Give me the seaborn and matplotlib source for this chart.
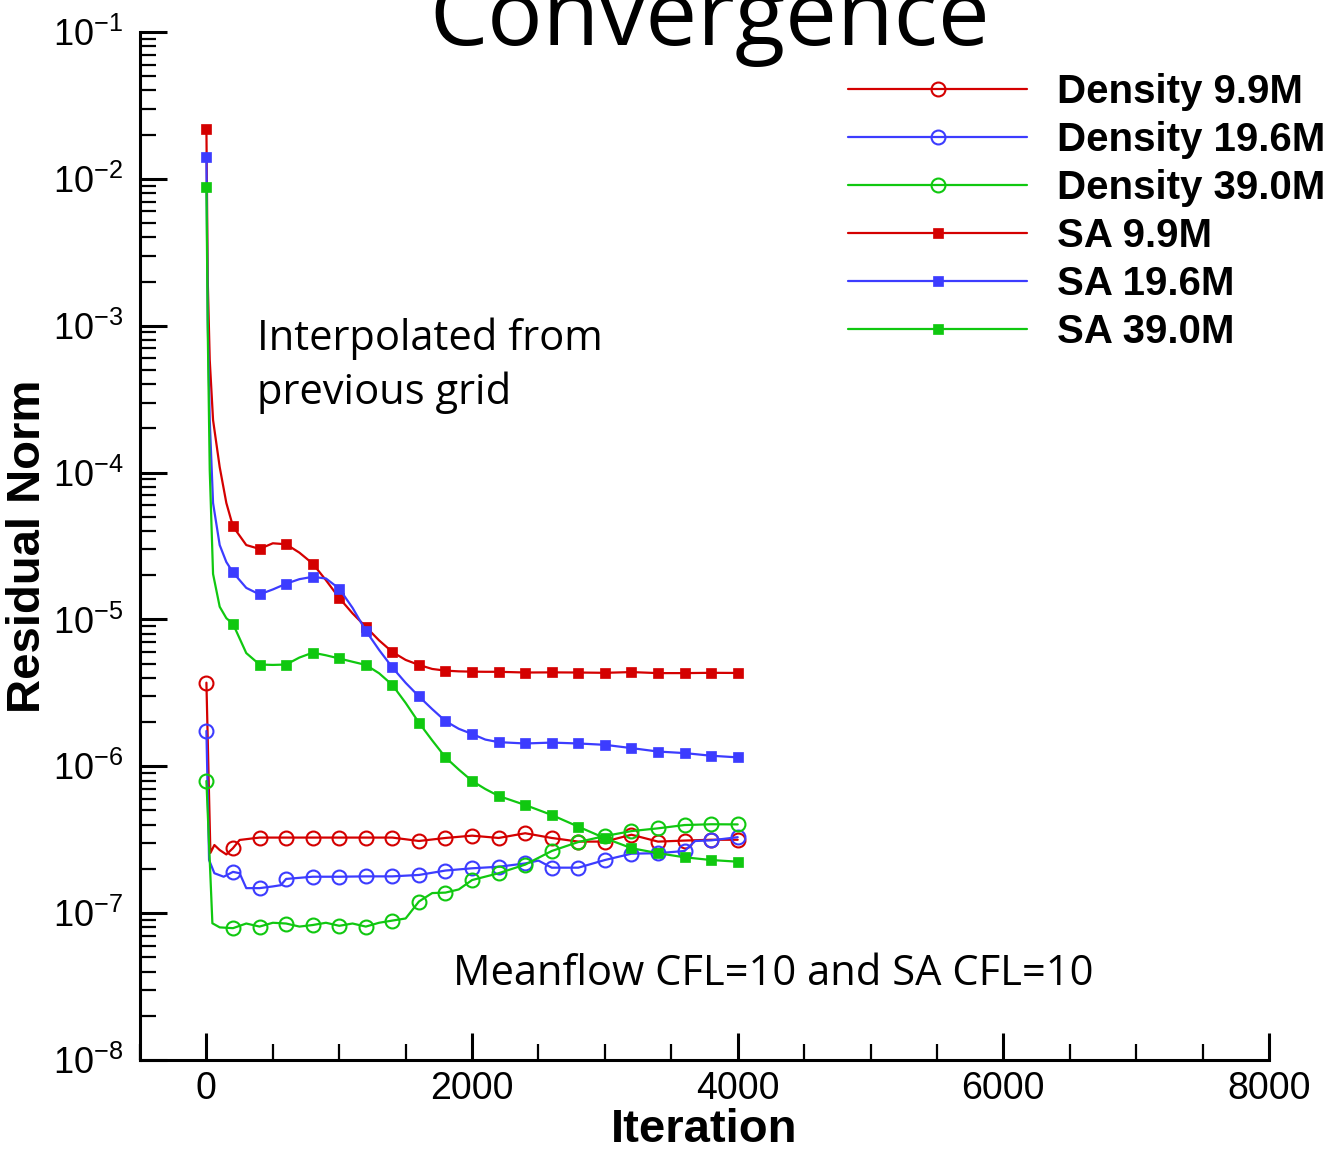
import numpy as np
import pandas as pd
import matplotlib
matplotlib.use("Agg")
import matplotlib.pyplot as plt
import matplotlib.ticker as mticker
from matplotlib.lines import Line2D
import seaborn as sns

# ---------------- data ----------------
labels = ["Density 9.9M", "Density 19.6M", "Density 39.0M", "SA 9.9M", "SA 19.6M", "SA 39.0M"]
colors = ["#d40000", "#3c3cff", "#10c810", "#d40000", "#3c3cff", "#10c810"]

# Density residuals
dens_red_x = [0, 30, 60, 100, 150, 200, 250, 400, 600, 800, 1000, 1200, 1400, 1600, 1800, 2000, 2200,
              2400, 2600, 2800, 3000, 3200, 3400, 3600, 3800, 4000]
dens_red_y = [3.71e-6, 2.57e-7, 2.91e-7, 2.69e-7, 2.51e-7, 2.77e-7, 3.15e-7, 3.27e-7, 3.27e-7, 3.27e-7,
              3.27e-7, 3.27e-7, 3.27e-7, 3.10e-7, 3.25e-7, 3.37e-7, 3.25e-7,
              3.50e-7, 3.25e-7, 3.07e-7, 3.07e-7, 3.42e-7, 3.07e-7, 3.12e-7, 3.16e-7, 3.16e-7]

dens_blue_x = [0, 20, 60, 130, 200, 250, 300, 400, 500, 560, 600, 800, 1000, 1200, 1400, 1600, 1800,
               2000, 2200, 2400, 2500, 2600, 2800, 3000, 3200, 3400, 3600, 3680, 3800, 4000]
dens_blue_y = [1.74e-6, 2.30e-7, 1.87e-7, 1.77e-7, 1.91e-7, 1.87e-7, 1.48e-7, 1.48e-7, 1.52e-7, 1.55e-7,
               1.71e-7, 1.77e-7, 1.77e-7, 1.78e-7, 1.78e-7, 1.82e-7, 1.95e-7,
               2.02e-7, 2.07e-7, 2.18e-7, 2.28e-7, 2.04e-7, 2.04e-7, 2.30e-7, 2.54e-7, 2.56e-7, 2.65e-7,
               3.10e-7, 3.13e-7, 3.29e-7]

dens_green_x = [0, 45, 100, 200, 300, 400, 500, 600, 700, 800, 900, 1000, 1100, 1200, 1300, 1400, 1500,
                1600, 1700, 1800, 1900, 2000, 2200, 2400, 2600, 2800, 3000, 3200, 3400, 3600, 3800, 4000]
dens_green_y = [7.94e-7, 8.53e-8, 8.0e-8, 7.9e-8, 8.5e-8, 8.1e-8, 8.6e-8, 8.5e-8, 8.1e-8, 8.3e-8, 8.6e-8,
                8.2e-8, 8.5e-8, 8.1e-8, 8.6e-8, 8.9e-8, 9.2e-8,
                1.20e-7, 1.37e-7, 1.38e-7, 1.45e-7, 1.68e-7, 1.87e-7, 2.14e-7, 2.65e-7, 3.05e-7, 3.35e-7,
                3.62e-7, 3.78e-7, 3.98e-7, 4.03e-7, 4.02e-7]

# SA residuals
sa_x = [0, 10, 25, 50, 100, 150, 200, 300, 400, 500, 600, 700, 800, 900, 1000, 1100, 1200, 1300, 1400,
        1500, 1600, 1700, 1800, 1900, 2000, 2100, 2200, 2400, 2600, 2800, 3000, 3200, 3400, 3600, 3800, 4000]
sa_red_y = [2.20e-2, 2.05e-3, 5.85e-4, 2.28e-4, 1.09e-4, 6.21e-5, 4.30e-5, 3.21e-5, 3.02e-5, 3.30e-5,
            3.25e-5, 2.85e-5, 2.40e-5, 1.85e-5, 1.40e-5, 1.10e-5, 8.91e-6, 7.20e-6, 6.00e-6,
            5.30e-6, 4.90e-6, 4.60e-6, 4.48e-6, 4.43e-6, 4.41e-6, 4.40e-6, 4.40e-6, 4.35e-6, 4.36e-6,
            4.35e-6, 4.33e-6, 4.38e-6, 4.31e-6, 4.31e-6, 4.33e-6, 4.32e-6]
sa_blue_y = [1.40e-2, 1.09e-3, 2.28e-4, 6.21e-5, 3.21e-5, 2.46e-5, 2.09e-5, 1.64e-5, 1.48e-5, 1.60e-5,
             1.75e-5, 1.88e-5, 1.95e-5, 1.90e-5, 1.62e-5, 1.20e-5, 8.38e-6, 6.20e-6, 4.71e-6,
             3.70e-6, 2.99e-6, 2.45e-6, 2.03e-6, 1.80e-6, 1.66e-6, 1.52e-6, 1.46e-6, 1.43e-6, 1.45e-6,
             1.43e-6, 1.40e-6, 1.33e-6, 1.26e-6, 1.23e-6, 1.18e-6, 1.15e-6]
sa_green_y = [8.80e-3, 9.35e-4, 1.04e-4, 2.04e-5, 1.22e-5, 1.02e-5, 9.33e-6, 5.90e-6, 4.93e-6, 4.90e-6,
              4.93e-6, 5.50e-6, 5.94e-6, 5.70e-6, 5.42e-6, 5.15e-6, 4.90e-6, 4.30e-6, 3.58e-6,
              2.70e-6, 1.98e-6, 1.50e-6, 1.15e-6, 9.50e-7, 7.95e-7, 7.00e-7, 6.28e-7, 5.45e-7, 4.66e-7,
              3.88e-7, 3.24e-7, 2.77e-7, 2.56e-7, 2.40e-7, 2.30e-7, 2.24e-7]

series_x = [dens_red_x, dens_blue_x, dens_green_x, sa_x, sa_x, sa_x]
series_y = [dens_red_y, dens_blue_y, dens_green_y, sa_red_y, sa_blue_y, sa_green_y]
series_marker = ["o", "o", "o", "s", "s", "s"]

x_ticks = [0, 2000, 4000, 6000, 8000]

# ---------------- figure ----------------
sns.set_style("ticks")
plt.rcParams["font.family"] = ["Liberation Sans", "DejaVu Sans"]
plt.rcParams["mathtext.default"] = "regular"
plt.rcParams["axes.unicode_minus"] = False
plt.rcParams["text.color"] = "black"
plt.rcParams["axes.labelcolor"] = "black"
plt.rcParams["xtick.color"] = "black"
plt.rcParams["ytick.color"] = "black"

W, H = 1332, 1150
fig = plt.figure(figsize=(W / 100, H / 100), dpi=100)
ax = fig.add_axes([140 / W, 1 - 1060 / H, (1269 - 140) / W, (1060 - 32) / H])
ax.set_yscale("log")

for lab, xs, ys, c, m in zip(labels, series_x, series_y, colors, series_marker):
    df = pd.DataFrame({"Iteration": xs, "Residual": ys})
    mask = [(int(v) % 200 == 0) for v in xs]
    if m == "o":
        sns.lineplot(data=df, x="Iteration", y="Residual", ax=ax, color=c, lw=1.6,
                     marker="o", markersize=10, mfc="none", mec=c, mew=1.5,
                     markevery=mask, estimator=None, sort=False)
    else:
        sns.lineplot(data=df, x="Iteration", y="Residual", ax=ax, color=c, lw=1.6,
                     marker="s", markersize=7.5, mfc=c, mec=c, mew=0.5,
                     markevery=mask, estimator=None, sort=False)

ax.set_xlim(-500, 8000)
ax.set_ylim(1e-8, 1e-1)

ax.xaxis.set_major_locator(mticker.FixedLocator(x_ticks))
ax.xaxis.set_minor_locator(mticker.MultipleLocator(500))
ax.yaxis.set_major_locator(mticker.LogLocator(base=10, numticks=20))
ax.yaxis.set_minor_locator(mticker.LogLocator(base=10, subs=np.arange(2, 10), numticks=20))
ax.yaxis.set_minor_formatter(mticker.NullFormatter())

for s in ["top", "right"]:
    ax.spines[s].set_visible(False)
for s in ["left", "bottom"]:
    ax.spines[s].set_linewidth(2.2)
    ax.spines[s].set_color("black")

ax.tick_params(axis="both", which="major", direction="in", length=19.5, width=2.2, colors="black")
ax.tick_params(axis="both", which="minor", direction="in", length=11.5, width=1.6)
ax.tick_params(axis="y", which="major", pad=12, labelsize=26)
ax.tick_params(axis="x", which="major", pad=8, labelsize=27)

ax.set_xlabel("Iteration", fontsize=34, fontweight="bold", labelpad=1)
ax.set_ylabel("Residual Norm", fontsize=34, fontweight="bold", labelpad=2)

# legend
handles = [Line2D([0], [0], color=c, lw=1.6, marker=m,
                  markersize=(10 if m == "o" else 7.5),
                  mfc=("none" if m == "o" else c), mec=c, mew=(1.5 if m == "o" else 0.5))
           for c, m in zip(colors, series_marker)]
leg = fig.legend(handles, labels, loc="upper left", bbox_to_anchor=(848 / W, 1 - 73 / H),
                 frameon=False, borderpad=0, borderaxespad=0, handlelength=4.45,
                 handletextpad=0.75, labelspacing=0.25, numpoints=1,
                 prop={"family": "Liberation Sans", "weight": "bold", "size": 29})

# annotations
fig.text(257 / W, 1 - 350 / H, "Interpolated from", fontsize=30, family="Open Sans",
         va="baseline", ha="left", color="black")
fig.text(257 / W, 1 - 404 / H, "previous grid", fontsize=30, family="Open Sans",
         va="baseline", ha="left", color="black")
fig.text(453 / W, 1 - 985 / H, "Meanflow CFL=10 and SA CFL=10", fontsize=30, family="Open Sans",
         va="baseline", ha="left", color="black")
fig.text(710 / W, 1 - 45 / H, "Convergence", fontsize=66.5, family="Open Sans",
         va="baseline", ha="center", color="black")

fig.savefig("out.png", dpi=100)
